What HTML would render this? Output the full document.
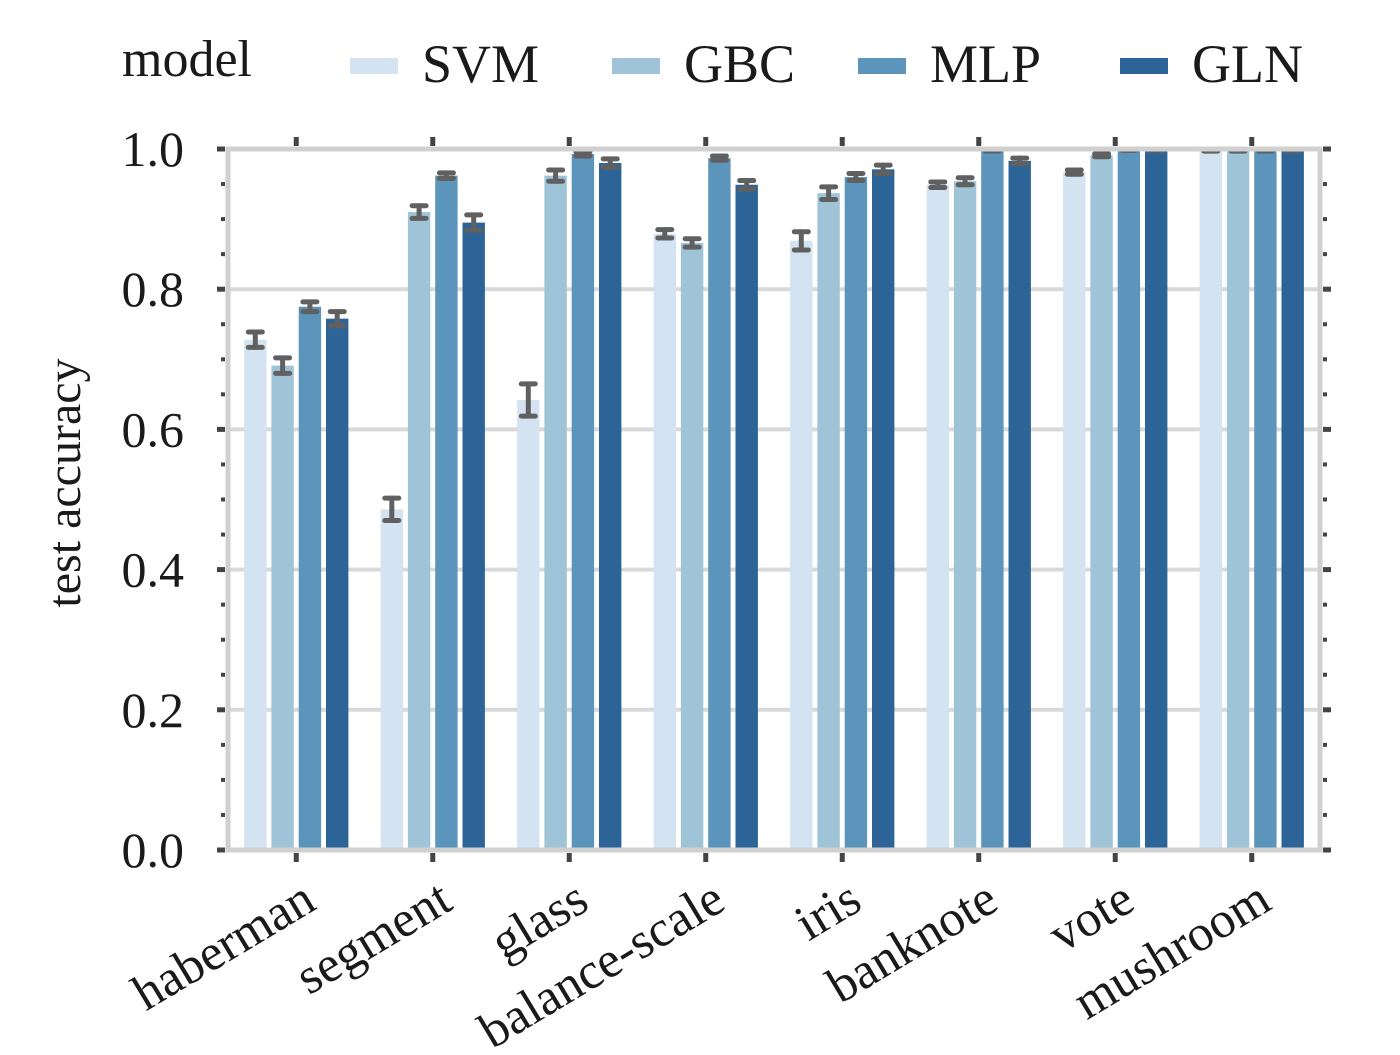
<!DOCTYPE html>
<html><head><meta charset="utf-8"><style>
body{margin:0;background:#fff;width:1400px;height:1050px;overflow:hidden}
svg text{font-family:"Liberation Serif",serif;fill:#1a1a1a}
</style></head><body>
<svg id="chart" width="1400" height="1050" viewBox="0 0 1400 1050" xmlns="http://www.w3.org/2000/svg">
<g id="grid"></g>
<g id="bars"></g>
<g id="axes"></g>
<g id="legend"></g>
</svg>
<script>
const categories = ["haberman","segment","glass","balance-scale","iris","banknote","vote","mushroom"];
const seriesNames = ["SVM","GBC","MLP","GLN"];
const svmVals = [0.728,0.486,0.642,0.879,0.869,0.949,0.967,0.998];
const gbcVals = [0.691,0.910,0.962,0.866,0.937,0.954,0.991,0.998];
const mlpVals = [0.775,0.962,0.993,0.987,0.960,0.998,0.999,0.998];
const glnVals = [0.758,0.895,0.980,0.949,0.971,0.983,0.999,0.998];
const svmErr = [0.011,0.016,0.023,0.006,0.013,0.004,0.003,0.001];
const gbcErr = [0.011,0.009,0.008,0.006,0.009,0.005,0.002,0.001];
const mlpErr = [0.007,0.004,0.003,0.003,0.005,0.001,0.001,0.001];
const glnErr = [0.010,0.011,0.006,0.006,0.006,0.004,0.001,0.001];
const yTicks = [0.0,0.2,0.4,0.6,0.8,1.0];
const yTickLabels = ["0.0","0.2","0.4","0.6","0.8","1.0"];

const vals=[svmVals,gbcVals,mlpVals,glnVals], errs=[svmErr,gbcErr,mlpErr,glnErr];
const colors=["#d3e3f1","#9fc3d7","#5b95bb","#2c6497"];
const NS="http://www.w3.org/2000/svg";
const L=228,R=1320,T=149,B=850,step=(R-L)/categories.length;
const x=i=>L+step*(i+0.5);
const y=v=>B-(B-T)*v;
function mk(tag,attrs,parent){const e=document.createElementNS(NS,tag);for(const k in attrs)e.setAttribute(k,attrs[k]);parent.appendChild(e);return e;}
const grid=document.getElementById('grid'),bars=document.getElementById('bars'),axes=document.getElementById('axes'),legend=document.getElementById('legend');
yTicks.forEach((t,i)=>{
  const g=mk('line',{x1:L,x2:R,y1:y(t),y2:y(t),stroke:'#d9d9d9','stroke-width':4},grid);
  
  
});
const slot=step*0.8/4, bw=slot*0.82;
categories.forEach((c,i)=>{
  vals.forEach((s,j)=>{
    const cx=x(i)-step*0.4+slot*(j+0.5);
    const r=mk('rect',{x:cx-bw/2,y:y(s[i]),width:bw,height:B-y(s[i]),fill:colors[j]},bars);
    
    
    const e=errs[j][i];
    const eg=mk('g',{stroke:'#606060','stroke-width':5,'stroke-linecap':'round'},bars);
    
    
    mk('line',{x1:cx,x2:cx,y1:y(s[i]-e),y2:y(s[i]+e)},eg);
    mk('line',{x1:cx-7,x2:cx+7,y1:y(s[i]-e),y2:y(s[i]-e)},eg);
    mk('line',{x1:cx-7,x2:cx+7,y1:y(s[i]+e),y2:y(s[i]+e)},eg);
  });
});
const sp=mk('rect',{x:L,y:T,width:R-L,height:B-T,fill:'none',stroke:'#d0d0d0','stroke-width':5},axes);


for(let k=0;k<=20;k++){
  const v=k*0.05, major=k%4===0, len=major?8:4, w=major?5:4;
  mk('line',{x1:L-3-len,x2:L-3,y1:y(v),y2:y(v),stroke:'#444','stroke-width':w},axes);
  mk('line',{x1:R+3,x2:R+3+len,y1:y(v),y2:y(v),stroke:'#444','stroke-width':w},axes);
}
yTicks.forEach((t,i)=>{
  const tx=mk('text',{x:184,y:y(t)+17,'text-anchor':'end','font-size':50},axes);
  tx.textContent=yTickLabels[i];
  
  
});
categories.forEach((c,i)=>{
  mk('line',{x1:x(i),x2:x(i),y1:B+3,y2:B+12,stroke:'#444','stroke-width':5},axes);
  mk('line',{x1:x(i),x2:x(i),y1:T-3,y2:T-12,stroke:'#444','stroke-width':5},axes);
  const ax=x(i)+22, ay=908;
  const tx=mk('text',{x:ax,y:ay,'text-anchor':'end','font-size':51,transform:`rotate(-31 ${ax} ${ay})`},axes);
  tx.textContent=c;
  
  
});
const yt=mk('text',{x:80,y:483,'text-anchor':'middle','font-size':48,transform:'rotate(-90 80 483)'},axes);
yt.textContent='test accuracy';


const lt=mk('text',{x:122,y:76,'font-size':52},legend);
lt.textContent='model';


const lx=[350,612,858,1120];
seriesNames.forEach((n,j)=>{
  const g=mk('g',{},legend);
  
  
  mk('rect',{x:lx[j],y:58,width:48,height:16,fill:colors[j]},g);
  const t=mk('text',{x:lx[j]+72,y:82,'font-size':54},g);
  t.textContent=n;
});
</script>
</body></html>
